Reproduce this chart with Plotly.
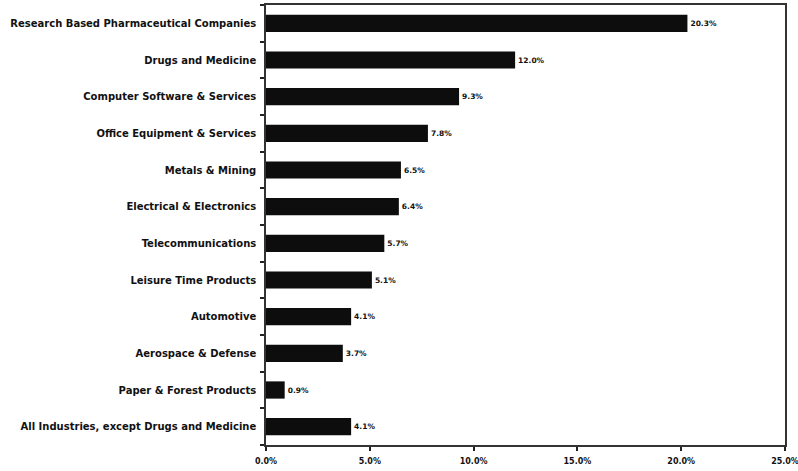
import plotly.graph_objects as go

# Industry categories, top to bottom as listed
categories = [
    "Research Based Pharmaceutical Companies",
    "Drugs and Medicine",
    "Computer Software & Services",
    "Office Equipment & Services",
    "Metals & Mining",
    "Electrical & Electronics",
    "Telecommunications",
    "Leisure Time Products",
    "Automotive",
    "Aerospace & Defense",
    "Paper & Forest Products",
    "All Industries, except Drugs and Medicine",
]
# Percentage values for each category
values = [20.3, 12.0, 9.3, 7.8, 6.5, 6.4, 5.7, 5.1, 4.1, 3.7, 0.9, 4.1]
tick_vals = [0, 5, 10, 15, 20, 25]
tick_text = ["0.0%", "5.0%", "10.0%", "15.0%", "20.0%", "25.0%"]

font_family = "DejaVu Sans, Arial, sans-serif"

fig = go.Figure(
    go.Bar(
        x=values,
        y=categories,
        orientation="h",
        marker=dict(color="#0d0d0d", line=dict(width=0)),
        text=[f"{v:.1f}%" for v in values],
        textposition="outside",
        textfont=dict(family=font_family, size=7.5, color="#111", weight="bold"),
        cliponaxis=False,
        hoverinfo="skip",
    )
)

fig.update_layout(
    width=798,
    height=471,
    margin=dict(l=266, r=13, t=5, b=26),
    paper_bgcolor="white",
    plot_bgcolor="white",
    bargap=0.53,
    showlegend=False,
    font=dict(family=font_family, color="#111"),
)

fig.update_xaxes(
    range=[0, 25],
    tickvals=tick_vals,
    ticktext=tick_text,
    tickfont=dict(family=font_family, size=8, color="#111", weight="bold"),
    ticks="outside",
    ticklen=4,
    tickwidth=1.5,
    tickcolor="#222",
    ticklabelstandoff=4,
    ticklabeloverflow="allow",
    automargin=False,
    showgrid=False,
    zeroline=False,
    showline=True,
    linecolor="#333",
    linewidth=1.5,
    mirror=True,
)

fig.update_yaxes(
    categoryorder="array",
    categoryarray=categories[::-1],
    tickfont=dict(family=font_family, size=10, color="#111", weight="bold"),
    ticks="outside",
    tickson="boundaries",
    ticklen=4,
    tickwidth=1.5,
    tickcolor="#222",
    automargin=False,
    showgrid=False,
    showline=True,
    linecolor="#333",
    linewidth=1.5,
    mirror=True,
    ticklabelstandoff=6,
)

fig.write_html("out.html")
